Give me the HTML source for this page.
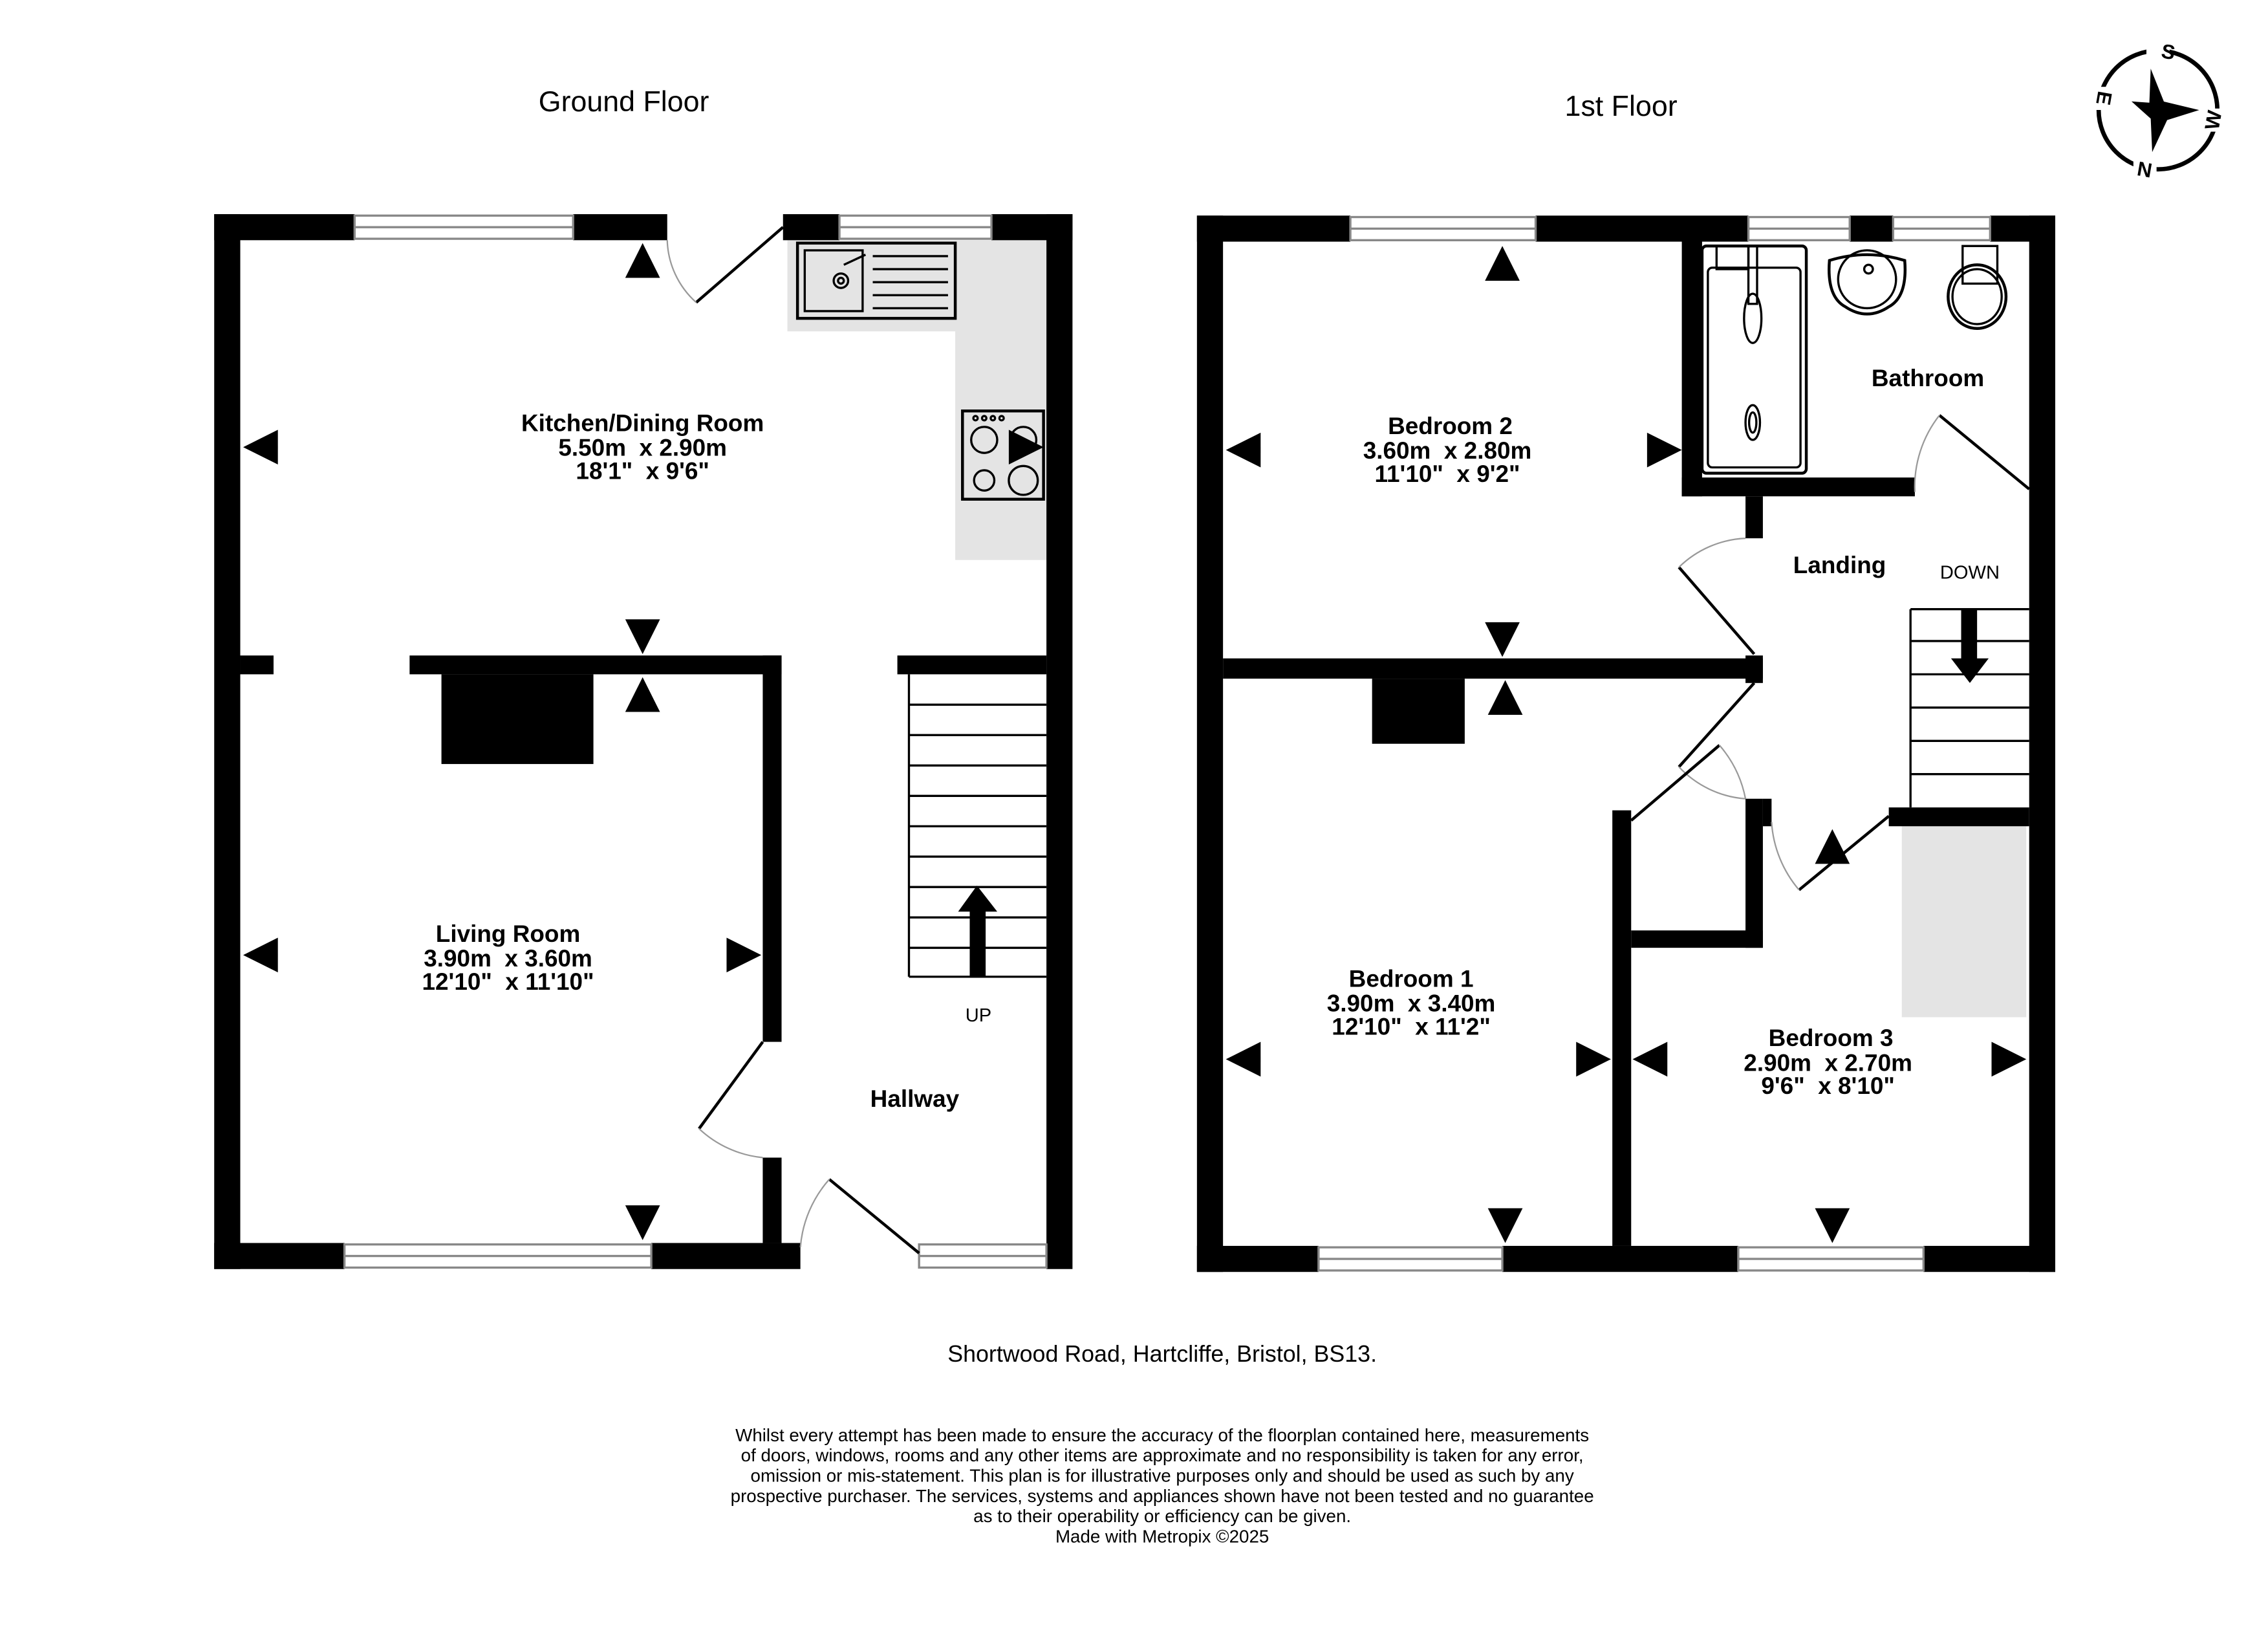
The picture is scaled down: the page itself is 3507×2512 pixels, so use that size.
<!DOCTYPE html>
<html><head><meta charset="utf-8"><style>
html,body{margin:0;padding:0;background:#fff;}
svg{display:block;}
text{font-family:"Liberation Sans",Arial,sans-serif;fill:#000;white-space:pre;}
.b{font-weight:bold;font-size:16.5px;}
</style></head><body>
<svg width="3507" height="2512" viewBox="0 0 1567 1123" preserveAspectRatio="none" xmlns="http://www.w3.org/2000/svg" xml:space="preserve">
<rect width="1567" height="1123" fill="#fff"/>
<g fill="#000">
<rect x="544" y="166" width="179" height="63" fill="#e4e4e4"/>
<rect x="660" y="166" width="63" height="221" fill="#e4e4e4"/>
<rect x="148" y="148" width="97" height="18"/>
<rect x="396" y="148" width="65" height="18"/>
<rect x="541" y="148" width="39" height="18"/>
<rect x="685" y="148" width="56" height="18"/>
<rect x="148" y="148" width="18" height="729"/>
<rect x="723" y="148" width="18" height="729"/>
<rect x="148" y="859" width="90" height="18"/>
<rect x="450" y="859" width="103" height="18"/>
<rect x="166" y="453" width="23" height="13"/>
<rect x="283" y="453" width="257" height="13"/>
<rect x="527" y="453" width="13" height="267"/>
<rect x="527" y="800" width="13" height="59"/>
<rect x="620" y="453" width="103" height="13"/>
<rect x="305" y="466" width="105" height="62"/>
</g>
<g fill="#fff" stroke="#888" stroke-width="1.5">
<rect x="245" y="149" width="151" height="16"/><line x1="245" y1="157" x2="396" y2="157"/>
<rect x="580" y="149" width="105" height="16"/><line x1="580" y1="157" x2="685" y2="157"/>
<rect x="238" y="860" width="212" height="16"/><line x1="238" y1="868" x2="450" y2="868"/>
<rect x="635" y="860" width="88" height="16"/><line x1="635" y1="868" x2="723" y2="868"/>
</g>
<g fill="none" stroke="#000">
<line x1="481" y1="209" x2="541" y2="157" stroke-width="2"/>
<path d="M461 166 A60 60 0 0 0 481 209" stroke="#999" stroke-width="1"/>
<line x1="527" y1="720" x2="483" y2="780" stroke-width="2"/>
<path d="M483 780 A75 75 0 0 0 527 800" stroke="#999" stroke-width="1"/>
<line x1="635" y1="866" x2="573" y2="815" stroke-width="2"/>
<path d="M573 815 A80 80 0 0 0 553 862" stroke="#999" stroke-width="1"/>
</g>
<g fill="none" stroke="#000" stroke-width="1.5">
<rect x="551" y="168" width="109" height="52" stroke-width="2"/>
<rect x="556" y="173" width="40" height="42"/>
<circle cx="581" cy="194" r="5"/><circle cx="581" cy="194" r="2"/>
<line x1="583" y1="183" x2="598" y2="176"/>
<line x1="603" y1="177" x2="655" y2="177"/><line x1="603" y1="186" x2="655" y2="186"/>
<line x1="603" y1="195" x2="655" y2="195"/><line x1="603" y1="204" x2="655" y2="204"/>
<line x1="603" y1="213" x2="655" y2="213"/>
<rect x="665" y="284" width="56" height="61" stroke-width="2"/>
<circle cx="680" cy="304" r="9"/><circle cx="707" cy="304" r="9"/>
<circle cx="680" cy="332" r="7"/><circle cx="707" cy="332" r="10"/>
<circle cx="674" cy="289" r="1.5"/><circle cx="680" cy="289" r="1.5"/><circle cx="686" cy="289" r="1.5"/><circle cx="692" cy="289" r="1.5"/>
</g>
<g stroke="#000" stroke-width="1.5" fill="none">
<line x1="628" y1="466" x2="628" y2="675"/>
<line x1="628" y1="487" x2="723" y2="487"/><line x1="628" y1="508" x2="723" y2="508"/>
<line x1="628" y1="529" x2="723" y2="529"/><line x1="628" y1="550" x2="723" y2="550"/>
<line x1="628" y1="571" x2="723" y2="571"/><line x1="628" y1="592" x2="723" y2="592"/>
<line x1="628" y1="613" x2="723" y2="613"/><line x1="628" y1="634" x2="723" y2="634"/>
<line x1="628" y1="655" x2="723" y2="655"/><line x1="628" y1="675" x2="723" y2="675"/>
</g>
<rect x="670" y="628" width="11" height="47" fill="#000"/>
<polygon points="662,630 689,630 675,612" fill="#000"/>
<g fill="#000">
<polygon points="432,192 456,192 444,168"/>
<polygon points="168,309 192,297 192,321"/>
<polygon points="721,309 697,297 697,321"/>
<polygon points="432,428 456,428 444,452"/>
<polygon points="432,492 456,492 444,468"/>
<polygon points="168,660 192,648 192,672"/>
<polygon points="526,660 502,648 502,672"/>
<polygon points="432,833 456,833 444,857"/>
</g>

<g fill="#000">
<rect x="1314" y="571" width="86" height="132" fill="#e4e4e4"/>
<rect x="827" y="149" width="106" height="18"/>
<rect x="1061" y="149" width="147" height="18"/>
<rect x="1278" y="149" width="30" height="18"/>
<rect x="1375" y="149" width="45" height="18"/>
<rect x="827" y="149" width="18" height="730"/>
<rect x="1402" y="149" width="18" height="730"/>
<rect x="827" y="861" width="84" height="18"/>
<rect x="1038" y="861" width="163" height="18"/>
<rect x="1329" y="861" width="91" height="18"/>
<rect x="1162" y="166" width="14" height="177"/>
<rect x="1162" y="330" width="161" height="13"/>
<rect x="1206" y="343" width="12" height="29"/>
<rect x="845" y="455" width="373" height="14"/>
<rect x="1206" y="453" width="12" height="19"/>
<rect x="948" y="469" width="64" height="45"/>
<rect x="1114" y="560" width="13" height="301"/>
<rect x="1206" y="552" width="12" height="103"/>
<rect x="1127" y="643" width="91" height="12"/>
<rect x="1218" y="552" width="6" height="19"/>
<rect x="1305" y="558" width="97" height="13"/>
</g>
<g fill="#fff" stroke="#888" stroke-width="1.5">
<rect x="933" y="150" width="128" height="16"/><line x1="933" y1="158" x2="1061" y2="158"/>
<rect x="1208" y="150" width="70" height="16"/><line x1="1208" y1="158" x2="1278" y2="158"/>
<rect x="1308" y="150" width="67" height="16"/><line x1="1308" y1="158" x2="1375" y2="158"/>
<rect x="911" y="862" width="127" height="16"/><line x1="911" y1="870" x2="1038" y2="870"/>
<rect x="1201" y="862" width="128" height="16"/><line x1="1201" y1="870" x2="1329" y2="870"/>
</g>
<g fill="none" stroke="#000">
<line x1="1340" y1="287" x2="1402" y2="338" stroke-width="2"/>
<path d="M1340 287 A80 80 0 0 0 1323 340" stroke="#999" stroke-width="1"/>
<line x1="1160" y1="392" x2="1212" y2="452" stroke-width="2"/>
<path d="M1160 392 A70 70 0 0 1 1206 372" stroke="#999" stroke-width="1"/>
<line x1="1160" y1="530" x2="1212" y2="472" stroke-width="2"/>
<path d="M1160 530 A70 70 0 0 0 1206 552" stroke="#999" stroke-width="1"/>
<line x1="1127" y1="567" x2="1188" y2="515" stroke-width="2"/>
<path d="M1188 515 A80 80 0 0 1 1206 552" stroke="#999" stroke-width="1"/>
<line x1="1243" y1="615" x2="1305" y2="564" stroke-width="2"/>
<path d="M1224 568 A80 80 0 0 0 1243 615" stroke="#999" stroke-width="1"/>
</g>
<g fill="none" stroke="#000" stroke-width="1.5">
<rect x="1176" y="170" width="72" height="157" rx="3" stroke-width="2"/>
<rect x="1180" y="185" width="64" height="138" rx="3"/>
<rect x="1186" y="170" width="22" height="16"/>
<rect x="1208" y="170" width="6" height="40"/>
<ellipse cx="1211" cy="220" rx="6" ry="17"/>
<ellipse cx="1211" cy="292" rx="5" ry="12"/><ellipse cx="1211" cy="292" rx="2.5" ry="7"/>
<path d="M1264 180 Q1290 172 1316 180 Q1318 205 1305 212 Q1290 222 1275 212 Q1262 205 1264 180Z" stroke-width="2"/>
<circle cx="1290" cy="193" r="20"/>
<circle cx="1291" cy="186" r="3"/>
<rect x="1356" y="170" width="24" height="26"/>
<ellipse cx="1366" cy="205" rx="20" ry="22" stroke-width="2"/>
<ellipse cx="1366" cy="205" rx="17" ry="19"/>
</g>
<g stroke="#000" stroke-width="1.5" fill="none">
<line x1="1320" y1="421" x2="1402" y2="421"/>
<line x1="1320" y1="421" x2="1320" y2="558"/>
<line x1="1320" y1="443" x2="1402" y2="443"/><line x1="1320" y1="466" x2="1402" y2="466"/>
<line x1="1320" y1="489" x2="1402" y2="489"/><line x1="1320" y1="512" x2="1402" y2="512"/>
<line x1="1320" y1="535" x2="1402" y2="535"/>
</g>
<rect x="1355" y="421" width="11" height="35" fill="#000"/>
<polygon points="1348,455 1374,455 1361,472" fill="#000"/>
<g fill="#000">
<polygon points="1026,194 1050,194 1038,170"/>
<polygon points="847,311 871,299 871,323"/>
<polygon points="1162,311 1138,299 1138,323"/>
<polygon points="1026,430 1050,430 1038,454"/>
<polygon points="1028,494 1052,494 1040,470"/>
<polygon points="847,732 871,720 871,744"/>
<polygon points="1113,732 1089,720 1089,744"/>
<polygon points="1028,835 1052,835 1040,859"/>
<polygon points="1128,732 1152,720 1152,744"/>
<polygon points="1400,732 1376,720 1376,744"/>
<polygon points="1254,835 1278,835 1266,859"/>
<polygon points="1254,597 1278,597 1266,573"/>
</g>
<g transform="translate(1491,76)">
<circle r="41" fill="none" stroke="#000" stroke-width="3"/>
<polygon points="-17,-9 -5,-6 0,-29 5,-5 28,5 5,8 -9,28 -6,5" fill="#000" transform="rotate(-10)"/>
<g font-family="Liberation Sans" font-weight="bold" font-size="14" fill="#000">
<rect x="-8" y="-49" width="16" height="15" fill="#fff"/><text x="0" y="-36" text-anchor="middle" transform="rotate(10)">S</text>
<rect x="-49" y="-16" width="14" height="16" fill="#fff"/><text x="-42" y="-9" text-anchor="middle" transform="rotate(100,-42,-9)">E</text>
<rect x="30" y="-1" width="16" height="16" fill="#fff"/><text x="38" y="12" text-anchor="middle" transform="rotate(-80,38,7)">W</text>
<rect x="-17" y="32" width="16" height="15" fill="#fff"/><text x="-9" y="46" text-anchor="middle" transform="rotate(10,-9,40)">N</text>
</g>
</g>
<text x="431" y="77" font-size="20" text-anchor="middle">Ground Floor</text>
<text x="1120" y="80" font-size="20" text-anchor="middle">1st Floor</text>
<g class="b" text-anchor="middle">
<text x="444" y="298" class="b">Kitchen/Dining Room</text>
<text x="444" y="315" class="b">5.50m  x 2.90m</text>
<text x="444" y="331" class="b">18'1"  x 9'6"</text>
<text x="351" y="651" class="b">Living Room</text>
<text x="351" y="668" class="b">3.90m  x 3.60m</text>
<text x="351" y="684" class="b">12'10"  x 11'10"</text>
<text x="632" y="765" class="b">Hallway</text>
<text x="1002" y="300" class="b">Bedroom 2</text>
<text x="1000" y="317" class="b">3.60m  x 2.80m</text>
<text x="1000" y="333" class="b">11'10"  x 9'2"</text>
<text x="1332" y="267" class="b">Bathroom</text>
<text x="1271" y="396" class="b">Landing</text>
<text x="975" y="682" class="b">Bedroom 1</text>
<text x="975" y="699" class="b">3.90m  x 3.40m</text>
<text x="975" y="715" class="b">12'10"  x 11'2"</text>
<text x="1265" y="723" class="b">Bedroom 3</text>
<text x="1263" y="740" class="b">2.90m  x 2.70m</text>
<text x="1263" y="756" class="b">9'6"  x 8'10"</text>
</g>
<text x="676" y="706" font-size="13" text-anchor="middle">UP</text>
<text x="1361" y="400" font-size="13" text-anchor="middle">DOWN</text>
<text x="803" y="941" font-size="16" text-anchor="middle">Shortwood Road, Hartcliffe, Bristol, BS13.</text>
<g font-size="12.4" text-anchor="middle">
<text x="803" y="996">Whilst every attempt has been made to ensure the accuracy of the floorplan contained here, measurements</text>
<text x="803" y="1010">of doors, windows, rooms and any other items are approximate and no responsibility is taken for any error,</text>
<text x="803" y="1024">omission or mis-statement. This plan is for illustrative purposes only and should be used as such by any</text>
<text x="803" y="1038">prospective purchaser. The services, systems and appliances shown have not been tested and no guarantee</text>
<text x="803" y="1052">as to their operability or efficiency can be given.</text>
<text x="803" y="1066">Made with Metropix ©2025</text>
</g>
</svg>
</body></html>
